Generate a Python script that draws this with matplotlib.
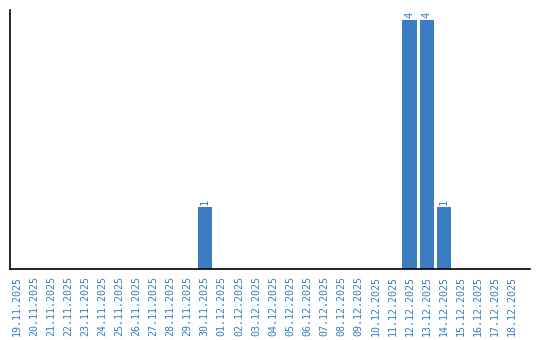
import matplotlib.pyplot as plt
import pandas as pd

dates = pd.date_range("2025-11-19", "2025-12-18", freq="D")
labels = [d.strftime("%d.%m.%Y") for d in dates]
counts = [0] * len(labels)
counts[labels.index("30.11.2025")] = 1
counts[labels.index("12.12.2025")] = 4
counts[labels.index("13.12.2025")] = 4
counts[labels.index("14.12.2025")] = 1

blue = "#3b7dc0"

fig = plt.figure(figsize=(5.4, 3.4), dpi=100)
ax = fig.add_axes([0.0194, 0.2088, 0.9621, 0.7618])

x = range(len(labels))
ax.bar(x, counts, width=0.84, color=blue)
for i, v in enumerate(counts):
    if v > 0:
        ax.text(i, v + 0.03, str(v), rotation=90, ha="center", va="bottom",
                color=blue, fontsize=7.5, family="DejaVu Sans Mono")

ax.set_xlim(-0.38, 30.05)
ax.set_ylim(0, 4.16)
ax.set_xticks(list(x))
ax.set_xticklabels(labels, rotation=90, color=blue, fontsize=7.2,
                   family="DejaVu Sans Mono")
ax.set_yticks([])
ax.tick_params(axis="x", length=0, pad=5)
for s in ["top", "right"]:
    ax.spines[s].set_visible(False)
for s in ["left", "bottom"]:
    ax.spines[s].set_linewidth(1.2)

fig.savefig("out.png", dpi=100)
